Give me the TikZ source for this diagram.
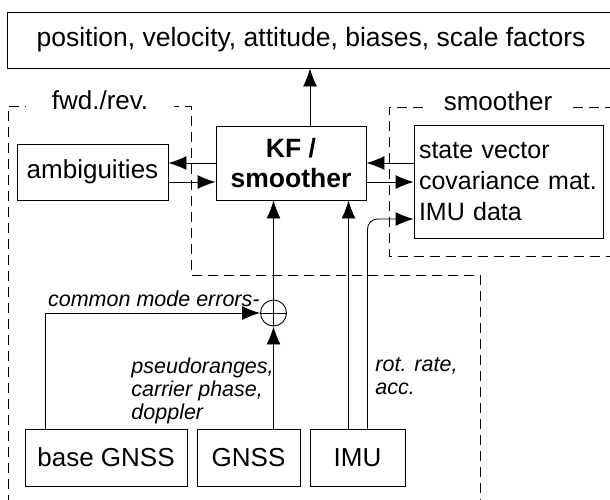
\documentclass[tikz,border=0pt]{standalone}
\usepackage{fontspec}
\setmainfont{Liberation Sans}
\usetikzlibrary{arrows.meta}

\begin{document}
\begin{tikzpicture}[x=1pt,y=-1pt, line width=0.9pt,
  every node/.style={font=\fontsize{26}{30}\selectfont},
  blk/.style={draw, fill=white, inner sep=0pt},
  lbl/.style={font=\fontsize{21.5}{23}\selectfont\itshape, inner sep=0pt, align=left},
  arr/.style={-{Latex[length=18pt,width=14pt]}},
  region/.style={dash pattern=on 10pt off 6pt}]
\useasboundingbox (0,0) rectangle (610,499);

% dashed regions
\draw[region] (8,505) -- (8,106) -- (191,106) -- (191,275) -- (480,275) -- (480,505);
\draw[region] (615,107) -- (389,107) -- (389,256) -- (615,256);
\node[fill=white, inner xsep=26pt, inner ysep=0pt] (fwd) at (100,100) {fwd./rev.};
\node[fill=white, inner xsep=18pt, inner ysep=0pt] (smo) at (498,101) {smoother};

% blocks
\node[blk, font=\fontsize{26.5}{30}\selectfont, minimum width=608pt, minimum height=56pt] (out) at (311,40) {position, velocity, attitude, biases, scale factors};
\node[blk, font=\fontsize{26.5}{30}\selectfont\bfseries, align=center, minimum width=150pt, minimum height=74pt] (kf) at (291,163) {KF /\\smoother};
\node[blk, minimum width=151pt, minimum height=56pt] (amb) at (92.5,172) {ambiguities};
\node[blk, font=\fontsize{25}{31}\selectfont, align=left, text width=179pt, inner xsep=5pt, minimum height=113pt] (state) at (508.5,181.5) {state vector\\covariance mat.\\IMU data};
\node[blk, minimum width=162pt, minimum height=57pt] (base) at (106,457.5) {base GNSS};
\node[blk, minimum width=103pt, minimum height=57pt] (gnss) at (248.5,457.5) {GNSS};
\node[blk, minimum width=95pt, minimum height=57pt] (imu) at (357.5,457.5) {IMU};
\node[draw, circle, minimum size=26pt, inner sep=0pt] (sum) at (273.5,313) {};
\draw (sum.west) -- (sum.east);
\draw (sum.north) -- (sum.south);

% connectors
\coordinate (up) at ([xshift=19pt]kf.north);
\draw[arr] (up) -- (up |- out.south);

\draw[arr] (kf.west) -- (kf.west -| amb.east);
\coordinate (a2) at ([yshift=-10pt]amb.east);
\draw[arr] (a2) -- (a2 -| kf.west);

\draw[arr] (kf.east -| state.west) -- (kf.east);
\coordinate (k2) at ([yshift=-19pt]kf.east);
\draw[arr] (k2) -- (k2 -| state.west);

\coordinate (b1) at ([xshift=21pt]base.north west);
\draw[arr] (b1) |- (sum.west);
\draw[arr] (sum.south |- gnss.north) -- (sum.south);
\draw[arr] (sum.north) -- (sum.north |- kf.south);

\coordinate (i1) at ([xshift=-9pt]imu.north);
\coordinate (i2) at ([xshift=10pt]imu.north);
\coordinate (sv) at ([yshift=-37.5pt]state.west);
\draw[arr] (i1) -- (i1 |- kf.south);
\draw[arr, rounded corners=10pt] (i2) |- (sv);

% labels
\node[lbl, anchor=base east] (cme) at ([yshift=7pt]sum.west) {common mode errors-};
\node[lbl, anchor=north west] (obs) at (131,357) {pseudoranges,\\carrier phase,\\doppler};
\node[lbl, anchor=north west] (rot) at (375,357) {rot. rate,\\acc.};
\end{tikzpicture}
\end{document}
